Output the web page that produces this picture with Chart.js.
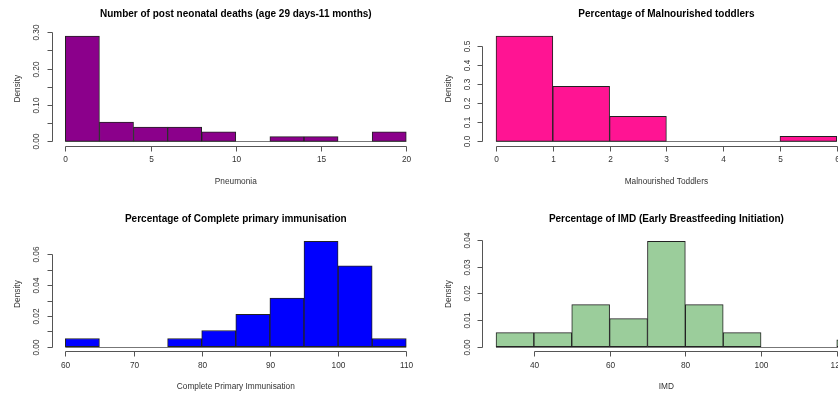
<!DOCTYPE html>
<html>
<head>
<meta charset="utf-8">
<script src="https://cdn.jsdelivr.net/npm/chart.js@4.4.0/dist/chart.umd.min.js"></script>
<style>
  html, body { margin: 0; padding: 0; background: #fff; width: 838px; height: 393px; overflow: hidden; position: relative; }
  canvas.panel { position: absolute; }
</style>
</head>
<body>
<canvas id="pneumonia" class="panel" width="430" height="196" style="left:0;top:0"></canvas>
<canvas id="gizi" class="panel" width="440" height="196" style="left:420px;top:0"></canvas>
<canvas id="imunisasi" class="panel" width="430" height="197" style="left:0;top:196px"></canvas>
<canvas id="imd" class="panel" width="440" height="197" style="left:420px;top:196px"></canvas>
<script>
// Post neonatal deaths (Pneumonia)
const pneuBreaks = [0, 2, 4, 6, 8, 10, 12, 14, 16, 18, 20];
const pneuDensity = [0.289, 0.053, 0.039, 0.039, 0.026, 0, 0.013, 0.013, 0, 0.026];
const pneuXTicks = [0, 5, 10, 15, 20];
const pneuYTicks = [0, 0.05, 0.10, 0.15, 0.20, 0.25, 0.30];
const pneuYLabels = ["0.00", "", "0.10", "", "0.20", "", "0.30"];

// Malnourished toddlers
const giziBreaks = [0, 1, 2, 3, 4, 5, 6];
const giziDensity = [0.553, 0.289, 0.132, 0, 0, 0.026];
const giziXTicks = [0, 1, 2, 3, 4, 5, 6];
const giziYTicks = [0, 0.1, 0.2, 0.3, 0.4, 0.5];
const giziYLabels = ["0.0", "0.1", "0.2", "0.3", "0.4", "0.5"];

// Complete primary immunisation
const imunBreaks = [60, 65, 70, 75, 80, 85, 90, 95, 100, 105, 110];
const imunDensity = [0.0053, 0, 0, 0.0053, 0.0105, 0.021, 0.0316, 0.0684, 0.0526, 0.0053];
const imunXTicks = [60, 70, 80, 90, 100, 110];
const imunYTicks = [0, 0.01, 0.02, 0.03, 0.04, 0.05, 0.06];
const imunYLabels = ["0.00", "", "0.02", "", "0.04", "", "0.06"];

// IMD (early breastfeeding initiation)
const imdBreaks = [30, 40, 50, 60, 70, 80, 90, 100, 110, 120, 130];
const imdDensity = [0.0053, 0.0053, 0.0158, 0.0105, 0.0395, 0.0158, 0.0053, 0, 0, 0.0026];
const imdXTicks = [40, 60, 80, 100, 120];
const imdYTicks = [0, 0.01, 0.02, 0.03, 0.04];
const imdYLabels = ["0.00", "0.01", "0.02", "0.03", "0.04"];

const FONT = '"Liberation Sans", Arial, sans-serif';

// R-like axes, titles and the zero line of empty bins
const rStyle = {
  id: "rStyle",
  beforeDatasetsDraw(chart, args, o) {
    const { ctx, chartArea: a, scales: { x, y } } = chart;
    const y0 = Math.round(y.getPixelForValue(0)) + 0.5;
    ctx.save();
    ctx.beginPath();
    ctx.rect(a.left, a.top, a.right - a.left, a.bottom - a.top + 2);
    ctx.clip();
    ctx.strokeStyle = "#777";
    ctx.lineWidth = 1;
    ctx.beginPath();
    ctx.moveTo(x.getPixelForValue(o.breaks[0]), y0);
    ctx.lineTo(x.getPixelForValue(o.breaks[o.breaks.length - 1]), y0);
    ctx.stroke();
    ctx.restore();
  },
  afterDraw(chart, args, o) {
    const { ctx, chartArea: a, scales: { x, y } } = chart;
    const cx = (a.left + a.right) / 2;
    ctx.save();
    ctx.textAlign = "center";
    ctx.textBaseline = "middle";

    ctx.fillStyle = "#000";
    ctx.font = "bold 10px " + FONT;
    ctx.fillText(o.title, cx, a.top - 18);

    ctx.fillStyle = "#333";
    ctx.font = "8.3px " + FONT;
    ctx.fillText(o.xLabel, cx, a.bottom + 36);

    ctx.strokeStyle = "#555";
    ctx.lineWidth = 1;

    // x axis
    const xb = Math.round(a.bottom) + 0.5;
    const xs = o.xTicks.map(v => Math.round(x.getPixelForValue(v)) + 0.5);
    ctx.beginPath();
    ctx.moveTo(xs[0], xb);
    ctx.lineTo(xs[xs.length - 1], xb);
    xs.forEach(px => { ctx.moveTo(px, xb); ctx.lineTo(px, xb + 5); });
    ctx.stroke();
    o.xTicks.forEach((v, i) => ctx.fillText(String(v), xs[i], a.bottom + 14.5));

    // y axis
    const yl = Math.round(a.left) + 0.5;
    const ys = o.yTicks.map(v => Math.round(y.getPixelForValue(v)) + 0.5);
    ctx.beginPath();
    ctx.moveTo(yl, ys[0]);
    ctx.lineTo(yl, ys[ys.length - 1]);
    ys.forEach(py => { ctx.moveTo(yl, py); ctx.lineTo(yl - 5, py); });
    ctx.stroke();
    o.yLabels.forEach((lab, i) => {
      if (!lab) return;
      ctx.save();
      ctx.translate(a.left - 14.5, ys[i]);
      ctx.rotate(-Math.PI / 2);
      ctx.fillText(lab, 0, 0);
      ctx.restore();
    });

    ctx.save();
    ctx.translate(a.left - 34, (a.top + a.bottom) / 2);
    ctx.rotate(-Math.PI / 2);
    ctx.fillText("Density", 0, 0);
    ctx.restore();

    ctx.restore();
  }
};

function histogram(id, p) {
  const points = p.density.map((d, i) => ({ x: (p.breaks[i] + p.breaks[i + 1]) / 2, y: d }));
  const xPad = (p.xlim[1] - p.xlim[0]) * 0.04;
  const yMax = Math.max(...p.density);
  new Chart(document.getElementById(id), {
    type: "bar",
    data: {
      datasets: [{
        data: points,
        backgroundColor: p.color,
        borderColor: "#222",
        borderWidth: 1,
        borderSkipped: false,
        barPercentage: 1,
        categoryPercentage: 1
      }]
    },
    options: {
      responsive: false,
      animation: false,
      devicePixelRatio: 1,
      layout: { padding: p.padding },
      plugins: {
        legend: { display: false },
        tooltip: { enabled: false },
        rStyle: {
          title: p.title, xLabel: p.xLabel, breaks: p.breaks,
          xTicks: p.xTicks, yTicks: p.yTicks, yLabels: p.yLabels
        }
      },
      scales: {
        x: { type: "linear", display: false, offset: false, min: p.xlim[0] - xPad, max: p.xlim[1] + xPad },
        y: { display: false, min: -yMax * 0.04, max: yMax * 1.04 }
      }
    },
    plugins: [rStyle]
  });
}

histogram("pneumonia", {
  title: "Number of post neonatal deaths (age 29 days-11 months)",
  xLabel: "Pneumonia",
  breaks: pneuBreaks, density: pneuDensity,
  xTicks: pneuXTicks, yTicks: pneuYTicks, yLabels: pneuYLabels,
  xlim: [0, 20], color: "#8B008B",
  padding: { left: 51.7, right: 10.1, top: 32, bottom: 50.5 }
});

histogram("gizi", {
  title: "Percentage of Malnourished toddlers",
  xLabel: "Malnourished Toddlers",
  breaks: giziBreaks, density: giziDensity,
  xTicks: giziXTicks, yTicks: giziYTicks, yLabels: giziYLabels,
  xlim: [0, 6], color: "#FF1493",
  padding: { left: 62.4, right: 9.6, top: 32, bottom: 50.5 }
});

histogram("imunisasi", {
  title: "Percentage of Complete primary immunisation",
  xLabel: "Complete Primary Immunisation",
  breaks: imunBreaks, density: imunDensity,
  xTicks: imunXTicks, yTicks: imunYTicks, yLabels: imunYLabels,
  xlim: [60, 110], color: "#0000FF",
  padding: { left: 51.7, right: 10.1, top: 41.2, bottom: 42.1 }
});

histogram("imd", {
  title: "Percentage of IMD (Early Breastfeeding Initiation)",
  xLabel: "IMD",
  breaks: imdBreaks, density: imdDensity,
  xTicks: imdXTicks, yTicks: imdYTicks, yLabels: imdYLabels,
  xlim: [30, 120], color: "#9BCD9B",
  padding: { left: 62.4, right: 9.6, top: 41.2, bottom: 42.1 }
});
</script>
</body>
</html>
